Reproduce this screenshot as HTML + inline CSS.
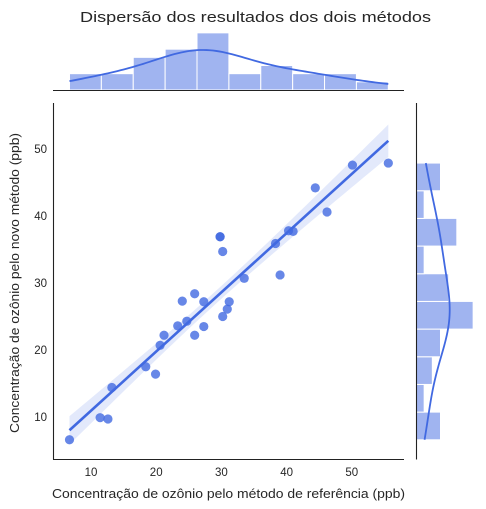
<!DOCTYPE html>
<html><head><meta charset="utf-8"><style>
body{margin:0;background:#fff;}
svg{display:block;font-family:"Liberation Sans","DejaVu Sans",sans-serif;}
</style></head><body>
<svg id="c" width="486" height="509"></svg>
<script>
const xVals=[6.7,11.4,12.6,13.2,18.4,19.9,20.6,21.2,23.3,24.0,24.7,25.9,25.9,27.3,27.3,29.8,29.8,30.2,30.2,30.9,31.2,33.5,38.3,39.0,40.3,41.0,44.4,46.2,50.1,55.6];
const yVals=[6.6,9.9,9.7,14.4,17.5,16.4,20.7,22.2,23.6,27.3,24.3,28.4,22.2,27.2,23.5,36.9,36.9,34.7,25.0,26.1,27.2,30.7,35.9,31.2,37.8,37.7,44.2,40.6,47.6,47.9];
const xTicks=[10,20,30,40,50];
const yTicks=[10,20,30,40,50];
const NS="http://www.w3.org/2000/svg";
const svgEl=document.getElementById('c');
function mk(t,attrs,p){const el=document.createElementNS(NS,t);for(const k in attrs)el.setAttribute(k,attrs[k]);(p||svgEl).appendChild(el);return el;}
const sx=v=>25.8+6.52*v;
const sy=v=>484-6.7*v;
const nPts=xVals.length;
const meanX=xVals.reduce((p,q)=>p+q)/nPts,meanY=yVals.reduce((p,q)=>p+q)/nPts;
let sxx=0,sxy=0;for(let i=0;i<nPts;i++){sxx+=(xVals[i]-meanX)**2;sxy+=(xVals[i]-meanX)*(yVals[i]-meanY);}
const slope=sxy/sxx,icpt=meanY-slope*meanX;
let sse=0;for(let i=0;i<nPts;i++)sse+=(yVals[i]-icpt-slope*xVals[i])**2;
const resSd=Math.sqrt(sse/(nPts-2));
const xMin=Math.min(...xVals),xMax=Math.max(...xVals);
const upPts=[],loPts=[];
for(let k=0;k<=50;k++){const x=xMin+(xMax-xMin)*k/50;const se=resSd*Math.sqrt(1/nPts+(x-meanX)**2/sxx)*1.5;const yh=icpt+slope*x;upPts.push(sx(x)+','+sy(yh+se));loPts.unshift(sx(x)+','+sy(yh-se));}
const band=mk('polygon',{points:upPts.concat(loPts).join(' '),fill:'#4169e1','fill-opacity':0.15});


xVals.forEach((x,i)=>{const c=mk('circle',{cx:sx(x),cy:sy(yVals[i]),r:4.6,fill:'#4169e1','fill-opacity':0.8});

});
const rl=mk('line',{x1:sx(xMin),y1:sy(icpt+slope*xMin),x2:sx(xMax),y2:sy(icpt+slope*xMax),stroke:'#4169e1','stroke-width':2.6});


mk('line',{x1:53.5,y1:103,x2:53.5,y2:459.5,stroke:'#222','stroke-width':1.1});
mk('line',{x1:53,y1:459.5,x2:404,y2:459.5,stroke:'#222','stroke-width':1.1});
xTicks.forEach(t=>{const el=mk('text',{x:sx(t),y:476,'text-anchor':'middle','font-size':11.5,fill:'#262626'});el.textContent=t;

});
yTicks.forEach(t=>{const el=mk('text',{x:47,y:sy(t)+4,'text-anchor':'end','font-size':11.5,fill:'#262626'});el.textContent=t;

});
let tx=mk('text',{x:52,y:498,'font-size':13,fill:'#262626',textLength:353,lengthAdjust:'spacingAndGlyphs'});tx.textContent='Concentração de ozônio pelo método de referência (ppb)';


tx=mk('text',{x:0,y:0,'font-size':13,fill:'#262626',textLength:300,lengthAdjust:'spacingAndGlyphs',transform:'translate(19,433) rotate(-90)'});tx.textContent='Concentração de ozônio pelo novo método (ppb)';


tx=mk('text',{x:80,y:22,'font-size':15,fill:'#262626',textLength:351,lengthAdjust:'spacingAndGlyphs'});tx.textContent='Dispersão dos resultados dos dois métodos';


function hist(vals){const lo=Math.min(...vals),hi=Math.max(...vals),w=(hi-lo)/10;const c=new Array(10).fill(0);vals.forEach(v=>{let k=Math.floor((v-lo)/w);if(k>9)k=9;c[k]++;});return {lo,hi,w,c};}
function kde(vals,w){const m=vals.reduce((p,q)=>p+q)/nPts;const sd=Math.sqrt(vals.reduce((p,q)=>p+(q-m)**2,0)/(nPts-1));const h=sd*Math.pow(nPts,-0.2);return v=>{let s=0;vals.forEach(q=>{s+=Math.exp(-0.5*((v-q)/h)**2);});return s/(h*Math.sqrt(2*Math.PI))*w;};}
const hx=hist(xVals),kx=kde(xVals,hx.w);
let kmax=0;for(let k=0;k<=100;k++)kmax=Math.max(kmax,kx(hx.lo+(hx.hi-hx.lo)*k/100));
let limX=Math.max(Math.max(...hx.c),kmax)*1.05;const hs=v=>90-60*v/limX;
hx.c.forEach((c,i)=>{const r=mk('rect',{x:sx(hx.lo+i*hx.w),y:hs(c),width:sx(hx.w)-sx(0),height:90-hs(c),fill:'#4169e1','fill-opacity':0.5,stroke:'#fff','stroke-width':1});

});
let pts=[];for(let k=0;k<=100;k++){const v=hx.lo+(hx.hi-hx.lo)*k/100;pts.push(sx(v)+','+hs(kx(v)));}
tx=mk('polyline',{points:pts.join(' '),fill:'none',stroke:'#4169e1','stroke-width':1.8});


mk('line',{x1:53,y1:90.5,x2:404,y2:90.5,stroke:'#222','stroke-width':1.1});
const hy=hist(yVals),ky=kde(yVals,hy.w);
kmax=0;for(let k=0;k<=100;k++)kmax=Math.max(kmax,ky(hy.lo+(hy.hi-hy.lo)*k/100));
let limY=Math.max(Math.max(...hy.c),kmax)*1.05;const ws=v=>416+60*v/limY;
hy.c.forEach((c,i)=>{const r=mk('rect',{x:416,y:sy(hy.lo+(i+1)*hy.w),width:ws(c)-416,height:sy(0)-sy(hy.w),fill:'#4169e1','fill-opacity':0.5,stroke:'#fff','stroke-width':1});

});
pts=[];for(let k=0;k<=100;k++){const v=hy.lo+(hy.hi-hy.lo)*k/100;pts.push(ws(ky(v))+','+sy(v));}
tx=mk('polyline',{points:pts.join(' '),fill:'none',stroke:'#4169e1','stroke-width':1.8});


mk('line',{x1:416.5,y1:103,x2:416.5,y2:459.5,stroke:'#222','stroke-width':1.1});
</script>
</body></html>
